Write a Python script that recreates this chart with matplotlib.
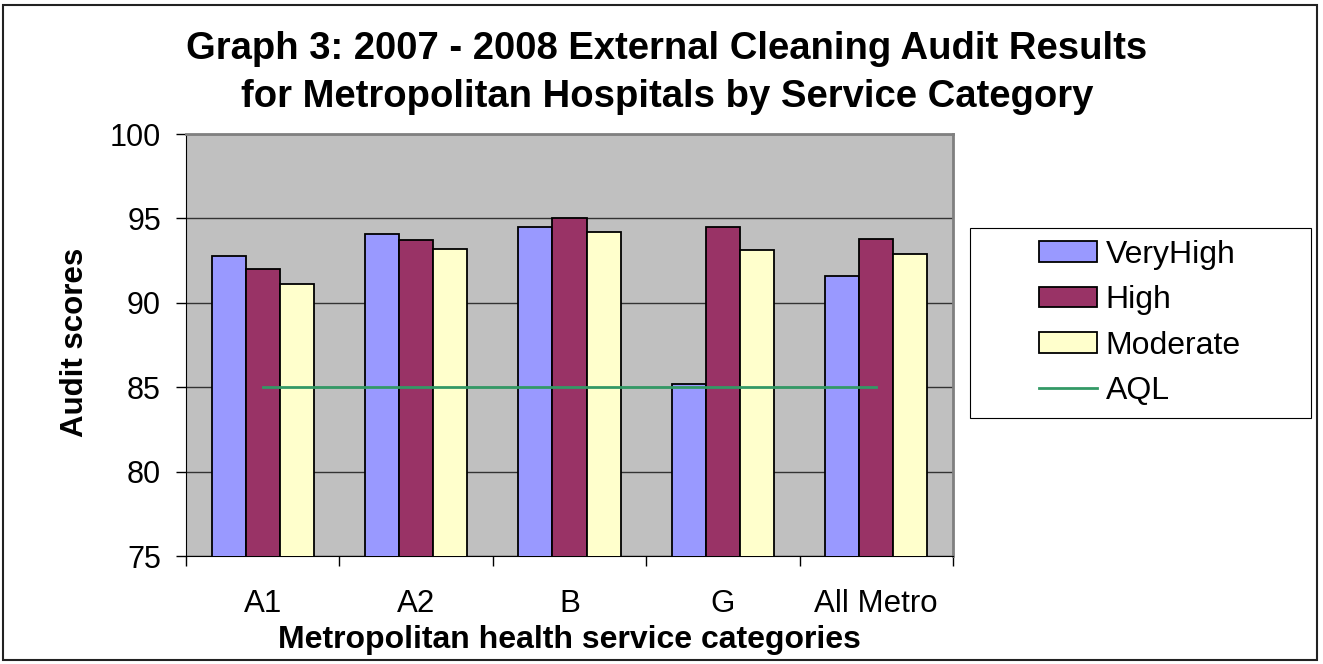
import numpy as np
import matplotlib
matplotlib.use("Agg")
import matplotlib.pyplot as plt
from matplotlib.patches import Rectangle

# Chart data
categories = ["A1", "A2", "B", "G", "All Metro"]
very_high = [92.8, 94.1, 94.5, 85.2, 91.6]
high = [92.0, 93.7, 95.0, 94.5, 93.8]
moderate = [91.1, 93.2, 94.2, 93.1, 92.9]
aql = [85, 85, 85, 85, 85]

plt.rcParams['font.family'] = ['Liberation Sans', 'DejaVu Sans']

W, H = 1323, 664
fig = plt.figure(figsize=(W / 100, H / 100), dpi=100)

# plot area in pixels: left 186, right 953, top 134, bottom 556
ax = fig.add_axes([186 / W, 1 - 556 / H, (953 - 186) / W, (556 - 134) / H])
ax.set_facecolor("#C0C0C0")

x = np.arange(len(categories))
w = 1 / 4.5
ax.bar(x - w, very_high, w, color="#9999FF", edgecolor="black", linewidth=1.3, label="VeryHigh", zorder=3)
ax.bar(x, high, w, color="#993366", edgecolor="black", linewidth=1.3, label="High", zorder=3)
ax.bar(x + w, moderate, w, color="#FFFFCC", edgecolor="black", linewidth=1.3, label="Moderate", zorder=3)
ax.plot(x, aql, color="#339966", linewidth=2, label="AQL", zorder=4)

ax.set_xlim(-0.5, len(categories) - 0.5)
ax.set_ylim(75, 100)
ax.set_yticks([75, 80, 85, 90, 95, 100])
ax.yaxis.grid(True, color="#333333", linewidth=1, zorder=0)
ax.set_axisbelow(True)

ax.tick_params(axis="y", direction="out", length=7, width=1, pad=11, labelsize=22)
ax.set_xticks(x)
ax.set_xticklabels(categories)
ax.set_xticks(np.arange(-0.5, len(categories)), minor=True)
ax.tick_params(axis="x", which="major", length=0, pad=24, labelsize=22.5)
ax.tick_params(axis="x", which="minor", direction="out", length=7, width=1)

for side in ["top", "right"]:
    ax.spines[side].set_color("#808080")
    ax.spines[side].set_linewidth(2)
ax.spines["left"].set_color("black")
ax.spines["bottom"].set_color("black")

# titles and axis labels
fig.text(667 / W, 1 - 59 / H, "Graph 3: 2007 - 2008 External Cleaning Audit Results",
         ha="center", va="baseline", fontsize=27.5, fontweight="bold")
fig.text(667 / W, 1 - 107 / H, "for Metropolitan Hospitals by Service Category",
         ha="center", va="baseline", fontsize=27.5, fontweight="bold")
fig.text(569 / W, 1 - 640 / H, "Metropolitan health service categories",
         ha="center", va="center", fontsize=23, fontweight="bold")
fig.text(75 / W, 1 - 342 / H, "Audit scores", ha="center", va="center",
         rotation=90, fontsize=22.5, fontweight="bold")

# legend box
handles, labels = ax.get_legend_handles_labels()
order = [1, 2, 3, 0]
leg = fig.legend([handles[i] for i in order], [labels[i] for i in order],
                 loc="center", bbox_to_anchor=(1140 / W, 1 - 323 / H), frameon=False,
                 fontsize=23, handlelength=1.8, handleheight=0.62, handletextpad=0.28,
                 labelspacing=0.48)
fig.add_artist(Rectangle((970 / W, 1 - 418 / H), 341 / W, 190 / H, transform=fig.transFigure,
                         fill=False, edgecolor="black", linewidth=0.8))

# outer chart border
fig.add_artist(Rectangle((3 / W, 1 - 660 / H), 1314 / W, 655 / H, transform=fig.transFigure,
                         fill=False, edgecolor="#222222", linewidth=1.5))

fig.savefig("out.png", dpi=100)
